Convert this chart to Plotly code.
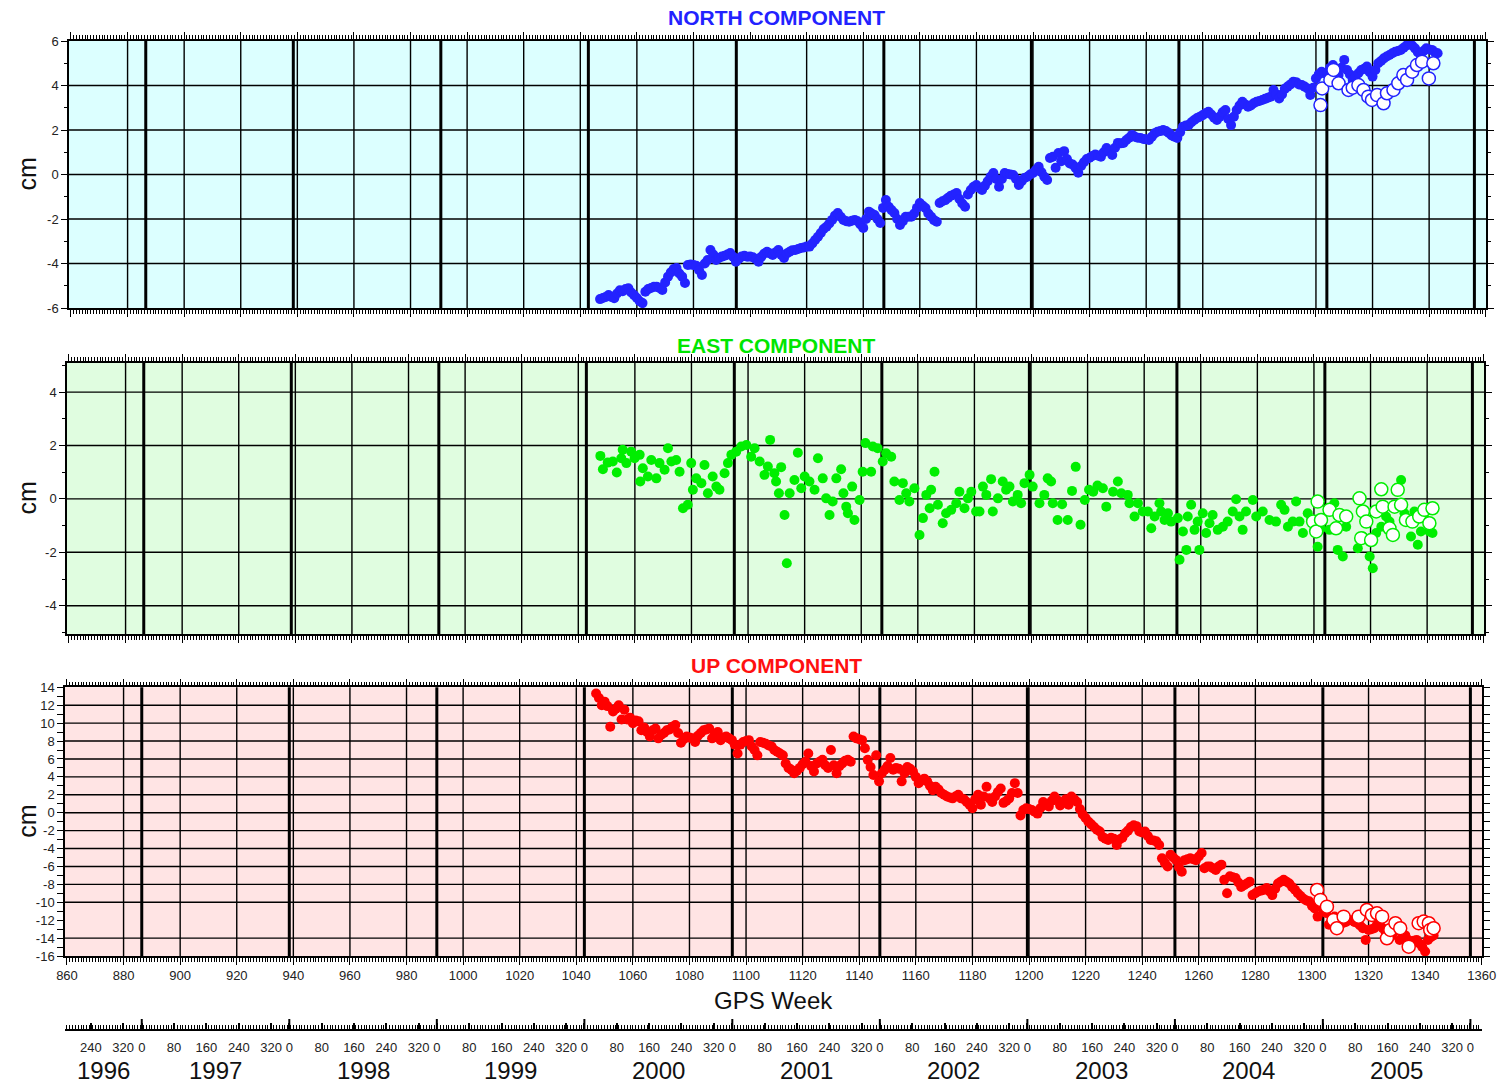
import plotly.graph_objects as go
from datetime import date

# ------------------------------------------------------------------ data (GPS week, cm)
north_wk = list(range(1047, 1344))
north_cm = [-5.6,-5.55,-5.5,-5.42,-5.5,-5.56,-5.35,-5.2,-5.25,-5.15,
            -5.11,-5.3,-5.42,-5.55,-5.7,-5.78,-5.27,-5.15,-5.1,-5.05,
            -5.04,-5.1,-5.19,-4.85,-4.59,-4.4,-4.25,-4.2,-4.45,-4.59,
            -4.88,-4.07,-4.05,-4.07,-4.1,-4.3,-4.52,-4.0,-3.84,-3.39,
            -3.6,-3.84,-3.75,-3.69,-3.65,-3.6,-3.53,-3.7,-3.92,-3.8,
            -3.69,-3.65,-3.7,-3.69,-3.72,-3.8,-3.92,-3.7,-3.55,-3.47,
            -3.55,-3.62,-3.5,-3.39,-3.6,-3.75,-3.55,-3.47,-3.4,-3.39,
            -3.35,-3.3,-3.28,-3.24,-3.24,-3.1,-2.94,-2.8,-2.63,-2.45,
            -2.35,-2.2,-2.04,-1.85,-1.73,-1.9,-2.04,-2.1,-2.12,-2.08,
            -2.04,-2.1,-2.25,-2.4,-2.0,-1.67,-1.75,-1.82,-2.0,-2.18,
            -1.5,-1.15,-1.45,-1.6,-1.73,-2.0,-2.27,-2.1,-1.9,-1.9,
            -1.9,-1.75,-1.5,-1.28,-1.4,-1.51,-1.75,-1.9,-2.05,-2.12,
            -1.28,-1.2,-1.15,-1.05,-0.95,-0.9,-0.83,-1.1,-1.3,-1.45,
            -0.9,-0.7,-0.55,-0.47,-0.6,-0.7,-0.5,-0.3,-0.1,0.07,
            -0.2,-0.55,-0.2,0.07,0.02,0.0,-0.02,-0.2,-0.47,-0.3,
            -0.16,-0.1,0.0,0.07,0.2,0.35,0.1,-0.1,-0.25,0.74,
            0.8,0.3,0.97,0.6,1.05,0.7,0.5,0.45,0.3,0.08,
            0.38,0.55,0.7,0.75,0.83,0.9,0.85,0.8,1.0,1.19,
            1.05,0.88,1.2,1.42,1.4,1.42,1.55,1.65,1.78,1.7,
            1.65,1.64,1.6,1.58,1.55,1.7,1.85,1.92,1.95,2.0,
            1.95,1.87,1.75,1.7,1.64,1.9,2.15,2.2,2.22,2.35,
            2.45,2.54,2.6,2.67,2.75,2.82,2.7,2.55,2.45,2.6,
            2.8,2.9,2.5,2.22,2.6,2.9,3.1,3.27,3.15,3.05,
            3.1,3.2,3.27,3.3,3.35,3.4,3.45,3.5,3.8,3.6,
            3.42,3.6,3.85,3.95,4.05,4.17,4.15,4.05,4.02,3.95,
            3.87,3.57,3.9,4.32,4.5,4.62,4.55,4.55,4.8,4.92,
            4.5,4.47,4.8,5.15,4.7,4.5,4.25,4.4,4.55,4.7,
            4.75,4.85,4.6,4.4,4.7,5.0,5.1,5.22,5.3,5.37,
            5.45,5.52,5.55,5.6,5.7,5.8,5.9,5.8,5.67,5.5,
            5.37,5.55,5.67,5.62,5.6,5.5,5.45]
north_open_wk = [1301.6,1302.2,1305.1,1306.2,1308.0,1311.5,1313.0,1315.0,1316.8,1318.5,1319.8,1321.6,1323.9,1325.1,
                 1327.4,1329.1,1330.9,1332.2,1334.0,1335.7,1337.5,1339.9,1341.5]
north_open_cm = [3.12,3.87,4.25,4.70,4.10,3.80,3.90,4.02,3.80,3.50,3.35,3.57,3.20,3.65,
                 3.80,4.10,4.47,4.25,4.62,4.92,5.07,4.32,5.00]

east_wk = [1047.8,1048.7,1050.4,1052.2,1053.6,1055.2,1055.7,1057.0,1058.7,1059.9,1061.7,1061.9,1062.8,1064.6,1065.8,1067.6,
           1068.7,1070.5,1071.7,1072.9,1074.6,1075.8,1077.0,1078.7,1079.9,1080.5,1081.7,1083.5,1084.6,1085.8,1087.5,1088.8,
           1089.9,1091.7,1092.9,1094.1,1095.8,1097.6,1099.4,1101.1,1102.3,1104.1,1105.8,1107.0,1107.8,1109.3,1109.9,1110.9,
           1111.7,1112.9,1113.7,1114.7,1116.4,1117.6,1118.8,1120.0,1121.7,1123.5,1124.7,1126.4,1127.6,1128.8,1129.9,1131.2,
           1132.9,1133.7,1134.7,1135.3,1136.8,1137.6,1139.4,1140.5,1141.5,1143.5,1144.1,1145.8,1147.6,1148.8,1150.6,1151.7,
           1153.5,1154.7,1155.9,1157.0,1158.8,1160.6,1161.8,1163.0,1164.2,1164.7,1165.9,1167.1,1168.8,1170.0,1171.8,1173.6,
           1174.7,1176.5,1177.7,1178.9,1180.6,1181.8,1183.0,1184.2,1185.9,1186.5,1188.3,1190.0,1191.2,1192.4,1193.6,1195.3,
           1196.5,1197.7,1199.5,1200.6,1203.0,1204.7,1205.9,1207.1,1207.7,1209.4,1211.0,1213.0,1214.5,1215.8,1217.5,1219.0,
           1220.5,1222.0,1223.5,1225.4,1226.6,1229.0,1230.7,1231.9,1234.2,1234.8,1236.6,1237.8,1239.5,1241.3,1242.5,1243.7,
           1245.4,1246.0,1247.2,1248.4,1249.5,1251.9,1252.5,1253.7,1254.9,1255.4,1256.6,1257.8,1258.9,1259.5,1260.7,1261.9,
           1263.1,1264.2,1266.0,1267.8,1269.5,1271.3,1272.5,1273.7,1274.8,1276.0,1278.4,1279.6,1281.9,1284.3,1286.6,1288.4,
           1289.6,1290.8,1292.5,1293.7,1294.9,1296.1,1297.8,1299.0,1300.2,1301.3,1302.5,1305.5,1307.2,1308.4,1310.2,1311.4,
           1315.5,1317.3,1318.5,1319.7,1320.8,1322.0,1323.8,1325.5,1326.7,1328.5,1329.6,1330.8,1332.0,1333.1,1334.3,1335.5,
           1336.7,1337.8,1339.0,1340.8,1341.9]
east_cm = [1.61,1.11,1.36,1.40,0.99,1.52,1.84,1.34,1.77,1.52,1.65,0.65,1.15,0.84,1.46,0.77,
           1.34,1.09,1.90,1.40,1.46,1.02,-0.35,-0.22,1.34,0.34,0.77,0.59,1.27,0.21,0.84,0.46,
           0.34,0.96,1.34,1.65,1.77,1.96,2.02,1.58,1.90,1.40,0.90,1.21,2.21,0.96,0.65,0.21,
           1.19,-0.60,-2.41,0.21,0.71,1.73,0.40,0.84,0.65,0.34,1.52,0.77,0.02,-0.60,-0.10,0.77,
           1.11,0.21,-0.29,-0.54,0.46,-0.79,-0.04,1.02,2.09,1.02,1.96,1.90,1.40,1.71,1.58,0.65,
           -0.04,0.59,0.21,-0.10,0.40,-1.35,-0.72,0.15,-0.35,0.34,1.02,-0.22,-0.91,-0.54,-0.41,-0.16,
           0.27,-0.35,0.02,0.27,-0.47,-0.47,0.46,0.15,0.74,-0.47,0.02,0.65,0.34,0.46,-0.10,0.15,
           -0.16,0.59,0.90,0.46,-0.16,0.15,0.77,0.65,-0.16,-0.79,-0.20,-0.79,0.30,1.20,-0.97,-0.04,
           0.34,0.27,0.50,0.40,-0.29,0.27,0.65,0.21,0.15,-0.16,-0.66,-0.16,-0.47,-0.47,-1.10,-0.66,
           -0.16,-0.47,-0.79,-0.54,-0.85,-0.72,-2.28,-1.22,-1.91,-0.66,-0.22,-1.16,-0.85,-1.91,-0.54,-1.28,
           -0.91,-0.60,-1.16,-1.04,-0.85,-0.47,-0.01,-0.66,-1.16,-0.47,-0.04,-0.66,-0.47,-0.79,-0.85,-0.22,
           -0.41,-1.04,-0.85,-0.10,-0.85,-1.28,-0.54,-0.79,-1.16,-1.79,-1.10,-1.16,-0.16,-1.91,-2.16,-1.04,
           -1.85,-1.41,-0.91,-2.16,-2.60,-1.28,-1.04,-0.66,-0.85,-0.22,0.34,0.71,-0.54,-0.79,-1.41,-0.47,
           -1.72,-1.22,-0.72,-1.22,-1.28]
east_open_wk = [1299.7,1300.8,1301.3,1302.5,1305.5,1307.8,1309.0,1311.4,1316.1,1316.7,1317.3,1318.5,1320.2,1322.0,
                1323.8,1324.3,1326.7,1327.9,1328.5,1329.6,1330.8,1332.5,1334.8,1337.2,1339.0,1340.8,1341.9]
east_open_cm = [-0.85,-1.22,-0.10,-0.79,-0.41,-1.10,-0.60,-0.66,0.02,-1.47,-0.47,-0.85,-1.54,-0.47,
                0.36,-0.29,-1.10,-1.35,-0.29,0.34,-0.22,-0.79,-0.85,-0.66,-0.41,-0.91,-0.35]

up_wk = list(range(1047, 1344))
up_cm = [13.3,12.8,12.0,12.4,11.9,9.6,11.3,11.6,12.0,10.4,
         11.5,10.4,10.6,10.0,10.3,10.2,9.2,9.5,9.0,8.5,
         9.2,9.4,8.3,8.7,8.9,9.2,9.3,9.6,9.8,8.9,
         7.8,8.2,8.5,8.4,8.3,7.9,8.6,8.9,9.2,9.3,
         9.4,8.3,8.8,9.0,8.1,8.4,8.5,8.3,8.1,7.6,
         6.6,7.6,7.9,8.0,8.1,7.4,7.0,6.4,7.9,7.8,
         7.7,7.5,7.4,7.0,6.8,6.6,6.4,5.5,5.0,4.8,
         4.4,4.7,5.0,5.4,5.7,6.6,5.2,4.6,5.5,5.7,
         5.9,5.3,5.0,7.0,5.3,4.4,5.2,5.5,5.8,5.9,
         5.7,8.5,8.3,8.2,8.1,7.2,5.9,5.1,4.2,6.4,
         3.5,4.4,4.8,5.2,6.1,4.8,5.0,4.9,3.5,4.4,
         5.1,4.9,4.6,4.0,3.3,3.6,3.8,3.5,3.0,2.5,
         2.9,2.6,2.2,2.0,1.8,1.7,1.6,1.8,2.0,1.6,
         1.5,1.2,0.9,0.5,1.5,2.0,0.9,1.8,2.9,1.6,
         1.2,1.8,2.3,2.7,1.1,1.3,1.6,2.2,3.3,2.2,
         -0.3,0.3,0.5,0.4,0.3,0.1,-0.1,0.5,1.2,0.9,
         0.7,1.3,1.8,1.4,0.8,1.1,1.5,0.9,1.8,1.5,
         1.2,0.4,-0.2,-0.6,-1.0,-1.3,-1.6,-1.9,-2.1,-2.7,
         -2.9,-3.05,-2.8,-2.9,-3.6,-3.0,-2.8,-2.3,-2.0,-1.6,
         -1.4,-1.5,-2.1,-2.2,-2.1,-2.6,-3.05,-3.1,-3.2,-3.6,
         -5.1,-5.6,-6.0,-4.7,-5.0,-5.3,-6.1,-6.6,-5.3,-5.2,
         -5.1,-5.2,-5.3,-4.9,-4.5,-6.2,-6.0,-6.0,-6.2,-6.4,
         -6.0,-5.8,-7.5,-9.0,-7.1,-7.2,-7.3,-7.8,-8.3,-8.1,
         -7.9,-7.7,-9.2,-9.0,-8.8,-8.7,-8.6,-8.4,-8.8,-9.2,
         -8.5,-7.9,-7.7,-7.5,-7.7,-7.9,-8.3,-8.6,-9.0,-9.3,
         -9.6,-9.8,-9.9,-10.4,-10.7,-11.6,-10.5,-10.8,-11.2,-12.5,
         -12.0,-11.6,-12.2,-12.5,-12.3,-12.2,-12.0,-12.0,-12.2,-12.3,
         -12.6,-12.9,-14.2,-13.1,-13.0,-12.9,-12.5,-12.2,-12.9,-13.3,
         -13.6,-13.8,-13.3,-13.1,-14.2,-13.9,-13.7,-14.2,-14.6,-14.3,
         -14.2,-14.6,-15.0,-15.5,-14.2,-13.9,-13.7]
up_open_wk = [1301.8,1303.0,1305.3,1307.6,1308.8,1311.2,1316.5,1319.4,1321.2,1323.0,1324.8,1326.5,1327.7,1329.5,
              1331.2,1334.2,1337.7,1339.5,1341.3,1341.8,1343.0]
up_open_cm = [-8.63,-9.74,-10.49,-11.98,-12.90,-11.61,-11.61,-10.86,-11.42,-11.23,-11.61,-14.02,-13.09,-12.34,
              -12.90,-14.96,-12.34,-12.16,-12.34,-13.09,-12.90]

# axis / tick definitions
week_range = [859.3, 1360.1]
week_ticks = list(range(860, 1361, 20))
years = list(range(1996, 2006))
day_ticks = [0, 80, 160, 240, 320]
north_yticks = [6, 4, 2, 0, -2, -4, -6]
east_yticks = [4, 2, 0, -2, -4]
up_yticks = [14, 12, 10, 8, 6, 4, 2, 0, -2, -4, -6, -8, -10, -12, -14, -16]
north_hgrid = [4, 2, 0, -2, -4]
east_hgrid = [4, 2, 0, -2, -4]
up_hgrid = [12, 10, 8, 6, 4, 2, 0, -2, -4, -6, -8, -10, -14]
grid_weeks = list(range(880, 1341, 20))
skip_grid = {"north": [1100, 1280], "east": [], "up": [1300]}

# ------------------------------------------------------------------ helpers
W, H = 1501, 1086
FONT = "Liberation Sans, Arial, sans-serif"
GPS0 = date(1980, 1, 6)


def gps_week(d):
    return (d - GPS0).days / 7.0


def fx(px):
    return px / W


def fy(py):
    return 1 - py / H


year_start = {y: gps_week(date(y, 1, 1)) for y in range(1996, 2008)}
year_lines = [year_start[y] for y in range(1997, 2007)]

panels = [
    dict(name="north", xa="x", ya="y", xdom=[fx(69), fx(1486)], ydom=[fy(308), fy(41)], yr=[-6, 6],
         bg="#dcffff", col="#2323ff", title="NORTH COMPONENT", tcol="#2222ff", ty=18,
         yt=north_yticks, hg=north_hgrid, wk=north_wk, cm=north_cm, owk=north_open_wk, ocm=north_open_cm),
    dict(name="east", xa="x2", ya="y2", xdom=[fx(67), fx(1484)], ydom=[fy(634), fy(363)], yr=[-5.06, 5.09],
         bg="#e0fde0", col="#00ee00", title="EAST COMPONENT", tcol="#00e600", ty=345,
         yt=east_yticks, hg=east_hgrid, wk=east_wk, cm=east_cm, owk=east_open_wk, ocm=east_open_cm),
    dict(name="up", xa="x3", ya="y3", xdom=[fx(65), fx(1482)], ydom=[fy(956), fy(687.3)], yr=[-16, 14],
         bg="#ffe4e4", col="#ff0000", title="UP COMPONENT", tcol="#ff1010", ty=665,
         yt=up_yticks, hg=up_hgrid, wk=up_wk, cm=up_cm, owk=up_open_wk, ocm=up_open_cm),
]

fig = go.Figure()
shapes = []
annotations = []
layout = dict(template="none", width=W, height=H, autosize=False, margin=dict(l=0, r=0, t=0, b=0, pad=0),
              paper_bgcolor="white", plot_bgcolor="rgba(0,0,0,0)", showlegend=False,
              font=dict(family=FONT, color="#222"))

for i, p in enumerate(panels):
    sfx = "" if i == 0 else str(i + 1)
    fig.add_trace(go.Scatter(x=p["wk"], y=p["cm"], xaxis=p["xa"], yaxis=p["ya"], mode="markers",
                             marker=dict(size=10, color=p["col"], line=dict(width=0)), hoverinfo="skip"))
    fig.add_trace(go.Scatter(x=p["owk"], y=p["ocm"], xaxis=p["xa"], yaxis=p["ya"], mode="markers",
                             marker=dict(size=13, color="white", line=dict(width=1.5, color=p["col"])),
                             hoverinfo="skip"))
    last = p["name"] == "up"
    layout["xaxis" + sfx] = dict(
        domain=p["xdom"], anchor=p["ya"], range=week_range, showgrid=False, zeroline=False, automargin=False,
        showline=True, linecolor="black", linewidth=1.5, mirror="allticks",
        ticks="outside", tickmode="array", tickvals=week_ticks, ticktext=[str(t) for t in week_ticks],
        ticklen=7, tickwidth=1.3, tickcolor="black",
        minor=dict(ticks="outside", tickmode="linear", tick0=860, dtick=1, ticklen=4, tickwidth=1,
                   tickcolor="black"),
        showticklabels=last, tickfont=dict(family=FONT, size=13, color="#222"))
    layout["yaxis" + sfx] = dict(
        domain=p["ydom"], anchor=p["xa"], range=p["yr"], showgrid=False, zeroline=False, automargin=False,
        showline=True, linecolor="black", linewidth=1.5, mirror="allticks",
        ticks="outside", tickmode="array", tickvals=p["yt"], ticktext=[str(t) for t in p["yt"]],
        ticklen=6, tickwidth=1.3, tickcolor="black",
        minor=dict(ticks="outside", tickmode="linear", tick0=1, dtick=2, ticklen=3, tickwidth=1.3,
                   tickcolor="black"),
        tickfont=dict(family=FONT, size=13, color="#222"))
    shapes.append(dict(type="rect", xref=p["xa"] + " domain", yref=p["ya"] + " domain", x0=0, x1=1, y0=0, y1=1,
                       fillcolor=p["bg"], line=dict(width=0), layer="below"))
    for g in grid_weeks:
        if g in skip_grid[p["name"]]:
            continue
        shapes.append(dict(type="line", xref=p["xa"], yref=p["ya"] + " domain", x0=g, x1=g, y0=0, y1=1,
                           line=dict(color="black", width=1.4), layer="below"))
    for yl in year_lines:
        if week_range[0] <= yl <= week_range[1]:
            shapes.append(dict(type="line", xref=p["xa"], yref=p["ya"] + " domain", x0=yl, x1=yl, y0=0, y1=1,
                               line=dict(color="black", width=3), layer="below"))
    for h in p["hg"]:
        shapes.append(dict(type="line", xref=p["xa"] + " domain", yref=p["ya"], x0=0, x1=1, y0=h, y1=h,
                           line=dict(color="black", width=1.4), layer="below"))
    annotations.append(dict(text=p["title"], x=fx(776), y=fy(p["ty"]), xref="paper", yref="paper",
                            showarrow=False, xanchor="center", yanchor="middle",
                            font=dict(family=FONT, size=21, color=p["tcol"], weight="bold")))
    annotations.append(dict(text="cm", x=fx(27), y=(p["ydom"][0] + p["ydom"][1]) / 2, xref="paper", yref="paper",
                            showarrow=False, textangle=-90, xanchor="center", yanchor="middle",
                            font=dict(family=FONT, size=25, color="#111")))

annotations.append(dict(text="GPS Week", x=fx(773), y=fy(1000), xref="paper", yref="paper", showarrow=False,
                        xanchor="center", yanchor="middle", font=dict(family=FONT, size=24, color="#111")))

# calendar axis (day of year / year)
cal_vals, cal_text = [], []
for y in years + [2006]:
    for d in day_ticks:
        w = year_start[y] + d / 7.0
        if week_range[0] <= w <= week_range[1]:
            cal_vals.append(w)
            cal_text.append(str(d))

cal_pos = fy(1030)
layout["xaxis4"] = dict(
    overlaying="x3", anchor="free", position=cal_pos, side="bottom", range=week_range, automargin=False,
    showgrid=False, zeroline=False, showline=True, linecolor="black", linewidth=2,
    ticks="inside", tickmode="array", tickvals=cal_vals, ticktext=cal_text, ticklen=6, tickwidth=1.5,
    tickcolor="black", ticklabelstandoff=5,
    minor=dict(ticks="inside", tickmode="linear", tick0=0, dtick=1, ticklen=4, tickwidth=1, tickcolor="black"),
    tickfont=dict(family=FONT, size=13, color="#222"))
fig.add_trace(go.Scatter(x=year_lines, y=[0] * len(year_lines), xaxis="x4", yaxis="y3", mode="markers",
                         marker=dict(opacity=0, size=1), hoverinfo="skip"))
for yl in year_lines:
    if week_range[0] <= yl <= week_range[1]:
        shapes.append(dict(type="line", xref="x4", yref="paper", x0=yl, x1=yl, y0=cal_pos, y1=cal_pos + 11 / H,
                           line=dict(color="black", width=2)))
for y in years:
    a = max(year_start[y], week_range[0])
    b = min(year_start[y + 1], week_range[1])
    annotations.append(dict(text=str(y), x=(a + b) / 2, y=fy(1085), xref="x4", yref="paper", showarrow=False,
                            xanchor="center", yanchor="bottom", borderpad=0,
                            font=dict(family="Liberation Sans Narrow, Arial Narrow, " + FONT, size=24,
                                      color="#111")))

layout["shapes"] = shapes
layout["annotations"] = annotations
fig.update_layout(**layout)

fig.write_html("out.html", config={"displayModeBar": False},
               post_script="document.body.style.margin='0';document.body.style.overflow='hidden';")
